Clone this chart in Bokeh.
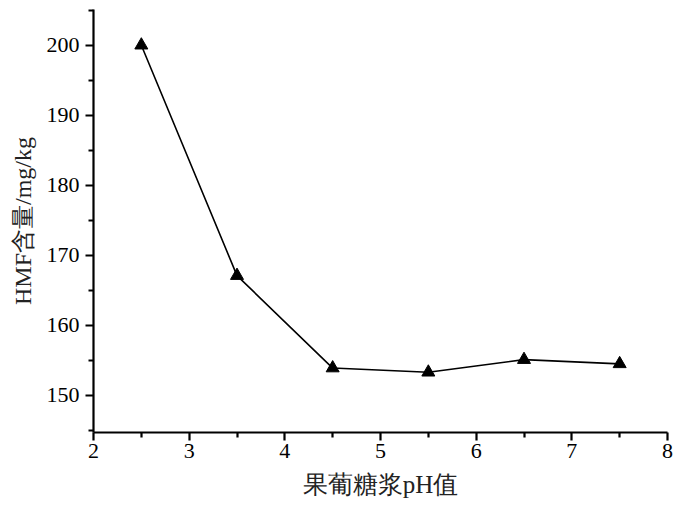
from bokeh.plotting import figure
from bokeh.models import FixedTicker, Range1d
from bokeh.embed import file_html
from bokeh.resources import INLINE

ph = [2.5, 3.5, 4.5, 5.5, 6.5, 7.5]
hmf = [200.0, 167.1, 153.9, 153.3, 155.1, 154.5]
x_ticks = [2, 3, 4, 5, 6, 7, 8]
x_minor = [2.5, 3.5, 4.5, 5.5, 6.5, 7.5]
y_ticks = [150, 160, 170, 180, 190, 200]
y_minor = [145, 155, 165, 175, 185, 195, 205]

FONT = "Liberation Serif"

p = figure(width=675, height=508, output_backend="svg", toolbar_location=None,
           x_range=Range1d(2, 8), y_range=Range1d(144.7, 205.1),
           min_border_left=93, min_border_right=8, min_border_top=9, min_border_bottom=76)
p.outline_line_color = None
p.grid.visible = False

p.line(ph, hmf, line_color="black", line_width=1.6)
p.scatter(ph, hmf, marker="triangle", size=13, fill_color="black", line_color="black")

for ax in (p.xaxis[0], p.yaxis[0]):
    ax.axis_line_width = 2.2
    ax.major_tick_line_width = 2.2
    ax.minor_tick_line_width = 2.2
    ax.major_tick_out = 8
    ax.major_tick_in = 0
    ax.minor_tick_out = 5
    ax.minor_tick_in = 0
    ax.major_label_text_font = FONT
    ax.major_label_text_font_size = "22px"
    ax.major_label_text_color = "black"
    ax.axis_label_text_font = FONT
    ax.axis_label_text_font_style = "normal"
    ax.axis_label_text_color = "#222222"

p.xaxis.axis_label_text_font_size = "25px"
p.yaxis.axis_label_text_font_size = "24px"
p.xaxis.ticker = FixedTicker(ticks=x_ticks, minor_ticks=x_minor)
p.yaxis.ticker = FixedTicker(ticks=y_ticks, minor_ticks=y_minor)
p.xaxis.axis_label = "果葡糖浆pH值"
p.yaxis.axis_label = "HMF含量/mg/kg"
p.xaxis.axis_label_standoff = 10
p.yaxis.axis_label_standoff = 8
p.xaxis.major_label_standoff = 3
p.yaxis.major_label_standoff = 6

open("out.html", "w").write(file_html(p, INLINE))
